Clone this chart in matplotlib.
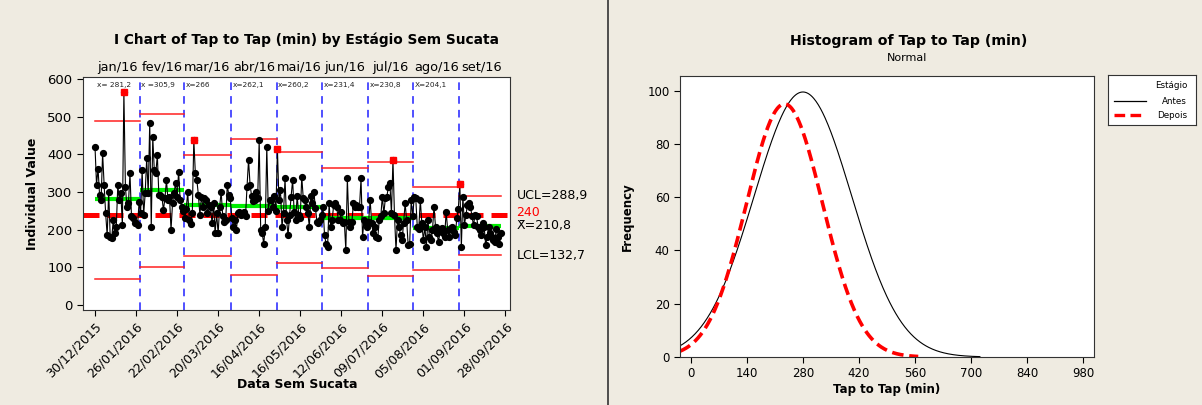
import numpy as np
import matplotlib
matplotlib.use("Agg")
import matplotlib.pyplot as plt

# ---------------- data ----------------
months = ["jan/16", "fev/16", "mar/16", "abr/16", "mai/16", "jun/16", "jul/16", "ago/16", "set/16"]
jan = [420, 319, 362, 292, 279, 403, 319, 243, 185, 301, 181, 177, 226, 190, 208, 319, 279, 296, 212, 566,
       314, 261, 270, 350, 235, 230, 217, 217, 212, 274]
fev = [243, 358, 239, 296, 389, 296, 484, 208, 445, 358, 350, 398, 292, 292, 288, 252, 283, 332, 279, 288,
       199, 270, 296, 323, 288, 354, 279, 261, 250]
mar = [230, 255, 300, 225, 215, 245, 438, 350, 332, 292, 239, 288, 261, 283, 279, 243, 265, 261, 217, 270,
       190, 243, 190, 261, 301, 235, 221, 226, 319, 292, 283]
abr = [230, 208, 226, 199, 243, 248, 239, 243, 248, 235, 314, 385, 319, 290, 275, 279, 301, 283, 438, 199,
       190, 163, 208, 420, 250, 279, 280, 260, 290, 250]
mai = [414, 279, 305, 208, 243, 336, 226, 185, 239, 288, 332, 248, 226, 290, 240, 230, 341, 283, 280, 260,
       243, 208, 290, 270, 300, 257, 221, 217, 226, 240]
jun = [261, 185, 163, 155, 270, 208, 226, 265, 270, 261, 226, 226, 248, 217, 221, 146, 336, 221, 208, 221,
       270, 261, 265, 261, 261, 336, 181, 226, 217, 208]
jul = [221, 279, 217, 190, 208, 181, 177, 226, 235, 288, 243, 283, 288, 314, 323, 243, 385, 239, 146, 226,
       208, 185, 172, 217, 270, 226, 159, 163, 279, 235]
ago = [288, 283, 208, 203, 279, 217, 172, 208, 155, 226, 181, 172, 199, 261, 208, 190, 168, 196, 205, 190,
       181, 248, 200, 180, 205, 206, 195, 185, 230, 255]
set_ = [321, 155, 288, 212, 239, 265, 270, 261, 235, 212, 239, 235, 208, 199, 185, 217, 208, 159, 181, 208,
        190, 181, 172, 168, 203, 181, 163, 190]
series = [jan, fev, mar, abr, mai, jun, jul, ago, set_]

means = [281.2, 305.9, 266.0, 262.1, 260.2, 231.4, 230.8, 204.1, 210.8]
ucls = [488, 507, 398, 441, 406, 364, 380, 313, 288.9]
lcls = [69, 101, 130, 80, 111, 98, 77, 93, 132.7]
mean_labels = ["x= 281,2", "x =305,9", "x=266", "x=262,1", "x=260,2", "x=231,4", "x=230,8", "X=204,1", ""]
ooc = [(0, 19), (2, 6), (4, 0), (6, 16), (8, 0)]   # (month, index in month) flagged points
target = 240

date_labels = ["30/12/2015", "26/01/2016", "22/02/2016", "20/03/2016", "16/04/2016", "16/05/2016",
               "12/06/2016", "09/07/2016", "05/08/2016", "01/09/2016", "28/09/2016"]

# histogram normal fits: (mean, sd, peak frequency, drawn up to)
antes_fit = (280, 122, 99.5, 722)
depois_fit = (234, 95, 95.0, 568)
hist_xticks = [0, 140, 280, 420, 560, 700, 840, 980]

# ---------------- figure ----------------
W, H = 1202, 405
BG = "#EFEBE1"
fig = plt.figure(figsize=(W / 100, H / 100), dpi=100, facecolor=BG)
plt.rcParams['font.family'] = ['DejaVu Sans']


def px_axes(x0, y0, x1, y1):
    return fig.add_axes([x0 / W, 1 - y1 / H, (x1 - x0) / W, (y1 - y0) / H])


def ftext(x, y, s, **kw):
    fig.text(x / W, 1 - y / H, s, **kw)


# ---------- left: I chart ----------
ax = px_axes(83, 77, 510, 310)
ax.set_facecolor("white")
vals = np.concatenate([np.array(s, float) for s in series])
xs = np.arange(len(vals))
starts = np.cumsum([0] + [len(s) for s in series])[:-1]
ends = starts + np.array([len(s) for s in series]) - 1

ax.axhline(target, color="#FF0000", lw=3.6, ls=(0, (3.2, 1.6)), zorder=2)
for m in range(len(series)):
    a = starts[m] - 0.5 if m > 0 else 0
    b = ends[m] + 0.5 if m < len(series) - 1 else ends[m]
    ax.plot([a, b], [means[m]] * 2, color="#00EE00", lw=3, zorder=3, solid_capstyle="butt")
    ax.plot([a, b], [ucls[m]] * 2, color="#FF2020", lw=1.1, zorder=3)
    ax.plot([a, b], [lcls[m]] * 2, color="#FF2020", lw=1.1, zorder=3)
    if m > 0:
        ax.axvline(starts[m] - 0.5, color="#2020FF", lw=1.1, ls=(0, (5, 4)), zorder=1)
    if mean_labels[m]:
        ax.text(a + 1, 592, mean_labels[m], fontsize=5.3, va="top", ha="left", color="#222222")
    ax.text((a + b) / 2 if m < len(series) - 1 else (a + b) / 2 + 1, 613, months[m],
            fontsize=9.3, ha="center", va="bottom")

ax.plot(xs, vals, color="black", lw=0.8, zorder=4)
ax.plot(xs, vals, "o", color="black", ms=4.2, zorder=5)
for m, i in ooc:
    ax.plot(starts[m] + i, series[m][i], "s", color="#FF0000", ms=4.5, zorder=6)

ax.set_xlim(-7.9, 273)
ax.set_ylim(-13, 605)
ax.set_yticks(range(0, 601, 100))
ax.set_xticks([27 * i for i in range(len(date_labels))])
ax.set_xticklabels(date_labels, rotation=45, ha="right", rotation_mode="anchor", fontsize=9)
ax.tick_params(axis="y", labelsize=9.5, length=4)
ax.tick_params(axis="x", length=4)
for sp in ax.spines.values():
    sp.set_color("#333333")
ax.set_ylabel("Individual Value", fontsize=9, fontweight="bold", labelpad=6)
ftext(297, 385, "Data Sem Sucata", fontsize=9, fontweight="bold", ha="center", va="center")
ftext(307, 40, "I Chart of Tap to Tap (min) by Estágio Sem Sucata", fontsize=9.9,
      fontweight="bold", ha="center", va="center")

ftext(517, 196, "UCL=288,9", fontsize=9, ha="left", va="center")
ftext(516, 212, "240", fontsize=9, ha="left", va="center", color="#FF0000")
ftext(517, 226, "X\u0304=210,8", fontsize=9, ha="left", va="center")
ftext(517, 255, "LCL=132,7", fontsize=9, ha="left", va="center")

# divider between panels
fig.add_artist(plt.Line2D([608 / W, 608 / W], [0, 1], color="#333333", lw=1.2))

# ---------- right: histogram normal fits ----------
ax2 = px_axes(680, 76, 1094, 357)
ax2.set_facecolor("white")
for (mu, sd, pk, xmax), col, ls, lw in [(antes_fit, "black", "-", 0.8),
                                         (depois_fit, "#FF0000", (0, (3.2, 1.6)), 2.6)]:
    xx = np.linspace(-27, xmax, 400)
    yy = pk * np.exp(-0.5 * ((xx - mu) / sd) ** 2)
    ax2.plot(xx, yy, color=col, ls=ls, lw=lw)
ax2.set_xlim(-27, 1007)
ax2.set_ylim(0, 105.5)
ax2.set_xticks(hist_xticks)
ax2.set_yticks(range(0, 101, 20))
ax2.tick_params(labelsize=8.5, length=4)
for sp in ax2.spines.values():
    sp.set_color("#333333")
ax2.set_ylabel("Frequency", fontsize=8.5, fontweight="bold", labelpad=10)
ax2.set_xlabel("Tap to Tap (min)", fontsize=8.5, fontweight="bold", labelpad=2)
ftext(909, 41, "Histogram of Tap to Tap (min)", fontsize=10.2, fontweight="bold", ha="center", va="center")
ftext(907, 58, "Normal", fontsize=8, ha="center", va="center")

# legend box
lg = px_axes(1108, 75, 1196, 125)
lg.set_facecolor("white")
lg.set_xticks([]); lg.set_yticks([])
lg.set_xlim(0, 88); lg.set_ylim(50, 0)
for sp in lg.spines.values():
    sp.set_color("#333333")
lg.text(79, 11, "Estágio", fontsize=6.3, ha="right", va="center")
lg.text(79, 26, "Antes", fontsize=6.3, ha="right", va="center")
lg.text(79, 40, "Depois", fontsize=6.3, ha="right", va="center")
lg.plot([6, 38], [26, 26], color="black", lw=0.9)
lg.plot([6, 38], [40, 40], color="#FF0000", lw=2.4, ls=(0, (3.2, 1.6)))

fig.savefig("out.png", dpi=100, facecolor=BG)
